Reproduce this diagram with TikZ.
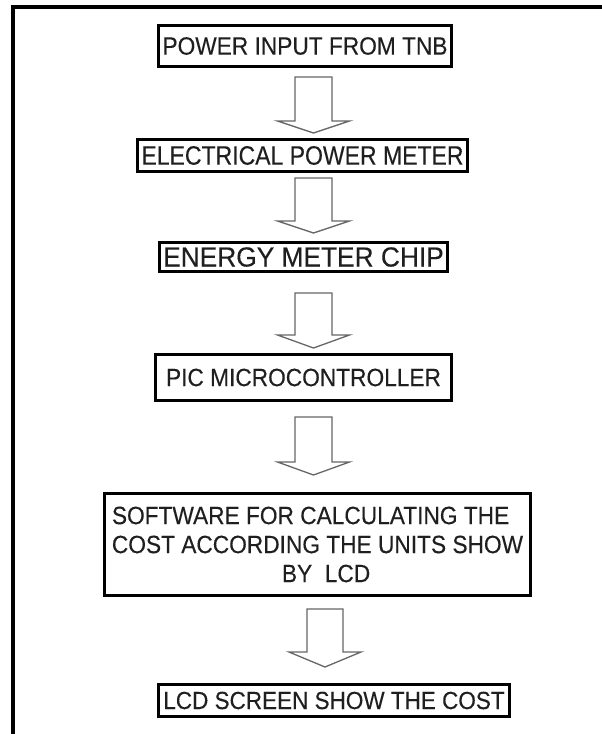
\documentclass[tikz,border=0pt]{standalone}
\usepackage{fontspec}
\setmainfont{Liberation Sans}[FakeBold=0.25]
\newcommand{\blkarrow}[5]{% coordinate, shaft half, shaft length, head extend, head length
  \draw[blk] (#1) ++(-#2,0) -- ++(2*#2,0) -- ++(0,#3) -- ++(#4,0)
    -- ++(-#2-#4,#5) -- ++(-#2-#4,-#5) -- ++(#4,0) -- cycle;}
\newcommand{\tall}[1]{\scalebox{1}[1.1]{#1}}
\begin{document}
\begin{tikzpicture}[x=1pt,y=-1pt,
  box/.style={draw=black, line width=3.3pt, inner sep=0pt, text=black!88,
    font=\fontsize{22.7}{29}\selectfont},
  blk/.style={draw=black!60, line width=1.3pt, fill=white, line join=miter},
  frame/.style={draw=black, line width=4.2pt}]
\useasboundingbox (0,0) rectangle (602,734);
% outer frame (only top and left edges visible)
\coordinate (fbl) at (13,740);
\coordinate (ftl) at (13,7);
\coordinate (ftr) at (610,7);
\draw[frame] (fbl) -- (ftl) -- (ftr);
% boxes
\node[box, minimum width=293pt, minimum height=41pt] (b1) at (305,46)
  {\tall{POWER INPUT FROM TNB}};
\node[box, minimum width=330pt, minimum height=32pt, font=\fontsize{23}{29}\selectfont] (b2) at (302.5,155.5)
  {\scalebox{1}[1.16]{ELECTRICAL POWER METER}};
\node[box, minimum width=288pt, minimum height=29pt, font=\fontsize{26.3}{30}\selectfont] (b3) at (303.5,257)
  {\scalebox{1}[1.05]{ENERGY METER CHIP}};
\node[box, minimum width=296pt, minimum height=46pt] (b4) at (303.5,377.5)
  {\tall{PIC MICROCONTROLLER}};
\node[box, minimum width=426pt, minimum height=102pt, align=left] (b5) at (317.5,544.5)
  {\tall{SOFTWARE FOR CALCULATING THE}\\\tall{COST ACCORDING THE UNITS SHOW}\\\hspace*{170pt}\tall{BY\ \ LCD}};
\node[box, minimum width=351pt, minimum height=32pt, font=\fontsize{22.5}{29}\selectfont] (b6) at (334,700.5)
  {\tall{LCD SCREEN SHOW THE COST}};
% block arrows
\coordinate (a1) at (313.5,77);
\coordinate (a2) at (313.5,178);
\coordinate (a3) at (313.5,293);
\coordinate (a4) at (313.5,417);
\coordinate (a5) at (325,609);
\blkarrow{a1}{18.5}{44}{17.5}{12}
\blkarrow{a2}{18.5}{43}{17.5}{12}
\blkarrow{a3}{18.5}{42}{17.5}{13}
\blkarrow{a4}{18.5}{45}{17.5}{13}
\blkarrow{a5}{18}{43}{18}{15}
\end{tikzpicture}
\end{document}
